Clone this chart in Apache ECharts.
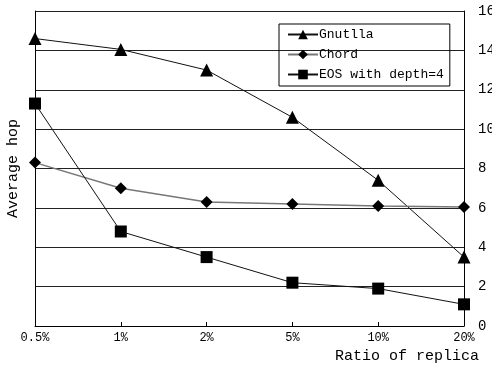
<!DOCTYPE html>
<html>
<head>
<meta charset="utf-8">
<script src="https://cdn.jsdelivr.net/npm/echarts@6/dist/echarts.min.js"></script>
<style>
  html, body { margin: 0; padding: 0; background: #fff; }
  #main { width: 492px; height: 367px; }
</style>
</head>
<body>
<div id="main"></div>
<script>
// data
const categories = ['0.5%', '1%', '2%', '5%', '10%', '20%'];
const gnutella = [14.6, 14.05, 13.0, 10.6, 7.4, 3.5];
const chord = [8.3, 7.0, 6.3, 6.2, 6.1, 6.05];
const eos = [11.3, 4.8, 3.5, 2.2, 1.9, 1.1];

const font = '"Liberation Mono", "DejaVu Sans Mono", monospace';

const myEchart = echarts.init(document.getElementById('main'));

const option = {
  backgroundColor: '#fff',
  animation: false,
  grid: {
    left: 35,
    right: 28,
    top: 11,
    bottom: 41,
    containLabel: false,
    outerBoundsMode: 'none'
  },
  legend: {
    orient: 'vertical',
    left: 279,
    top: 24,
    padding: [4, 6, 5, 8],
    itemGap: 7,
    itemWidth: 30,
    itemHeight: 12,
    borderColor: '#000',
    borderWidth: 1,
    textStyle: {
      fontFamily: font,
      fontSize: 13,
      color: '#000',
      padding: [0, 0, 0, -4]
    },
    data: ['Gnutlla', 'Chord', 'EOS with depth=4']
  },
  xAxis: {
    type: 'category',
    data: categories,
    boundaryGap: false,
    name: 'Ratio of replica',
    nameLocation: 'end',
    nameGap: 15,
    nameTextStyle: {
      fontFamily: font,
      fontSize: 15,
      color: '#000',
      align: 'right',
      verticalAlign: 'top',
      padding: [23, 0, 0, 0]
    },
    axisLine: { lineStyle: { color: '#000', width: 1 } },
    axisTick: { show: true, inside: true, length: 4, lineStyle: { color: '#000' } },
    axisLabel: {
      fontFamily: font,
      fontSize: 12,
      color: '#000',
      margin: 6
    },
    splitLine: { show: false }
  },
  yAxis: [
    {
      type: 'value',
      position: 'left',
      min: 0,
      max: 16,
      interval: 2,
      name: 'Average hop',
      nameLocation: 'middle',
      nameGap: 14,
      nameRotate: 90,
      nameTextStyle: {
        fontFamily: font,
        fontSize: 15,
        color: '#000'
      },
      axisLine: { show: true, lineStyle: { color: '#000' } },
      axisTick: { show: false },
      axisLabel: { show: false },
      splitLine: { show: true, lineStyle: { color: '#222', width: 1 } }
    },
    {
      type: 'value',
      position: 'right',
      min: 0,
      max: 16,
      interval: 2,
      axisLine: { show: true, lineStyle: { color: '#000' } },
      axisTick: { show: false },
      axisLabel: {
        fontFamily: font,
        fontSize: 14,
        color: '#000',
        margin: 14
      },
      splitLine: { show: false }
    }
  ],
  series: [
    {
      name: 'Gnutlla',
      type: 'line',
      data: gnutella,
      symbol: 'triangle',
      symbolSize: 13,
      lineStyle: { color: '#111', width: 1 },
      itemStyle: { color: '#000' }
    },
    {
      name: 'Chord',
      type: 'line',
      data: chord,
      symbol: 'diamond',
      symbolSize: 12,
      lineStyle: { color: '#777', width: 1.5 },
      itemStyle: { color: '#000' }
    },
    {
      name: 'EOS with depth=4',
      type: 'line',
      data: eos,
      symbol: 'rect',
      symbolSize: 12,
      lineStyle: { color: '#111', width: 1 },
      itemStyle: { color: '#000' }
    }
  ]
};

myEchart.setOption(option);
</script>
</body>
</html>
